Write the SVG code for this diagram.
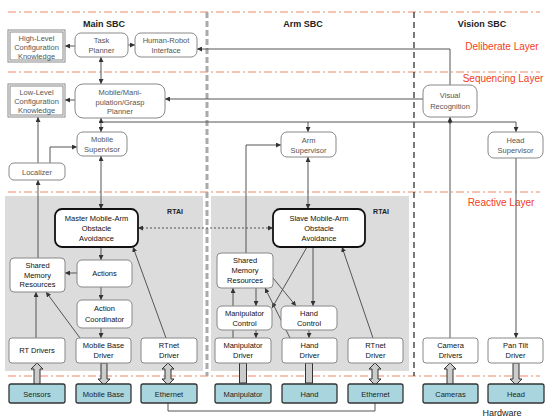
<svg xmlns="http://www.w3.org/2000/svg" width="549" height="420" viewBox="0 0 549 420">
<style>
.t{font-family:"Liberation Sans",Arial,sans-serif;font-size:7.5px;fill:#555;text-anchor:middle}
.tb{font-family:"Liberation Sans",Arial,sans-serif;font-size:7.5px;fill:#111;text-anchor:middle}
.th{font-family:"Liberation Sans",Arial,sans-serif;font-size:7.5px;fill:#222;text-anchor:middle}
.ti{font-family:"Liberation Sans",Arial,sans-serif;font-size:9px;fill:#222;text-anchor:middle;font-weight:bold}
.tl{font-family:"Liberation Sans",Arial,sans-serif;font-size:10px;fill:#f0401a;text-anchor:middle}
.tr{font-family:"Liberation Sans",Arial,sans-serif;font-size:7px;fill:#222;text-anchor:middle;font-weight:bold}
.n{fill:#fff;stroke:#888;stroke-width:1}
.k{fill:#fff;stroke:#888;stroke-width:1}
.b{fill:#fff;stroke:#111;stroke-width:1.8}
.h{fill:#a9d6de;stroke:#333;stroke-width:1.3}
.c{stroke:#555;stroke-width:1;fill:none}
.lay{stroke:#f08a6a;stroke-width:1.2;stroke-dasharray:8,3,2,3;fill:none}
.blk{fill:#ccc;stroke:#333;stroke-width:1}
</style>
<defs>
<marker id="a" viewBox="0 0 6 6" refX="6" refY="3" markerWidth="5" markerHeight="5" orient="auto-start-reverse" markerUnits="userSpaceOnUse">
<path d="M0,0 L6,3 L0,6 z" fill="#333"/>
</marker>
</defs>
<rect width="549" height="420" fill="#fff"/>
<!-- reactive gray regions -->
<rect x="5" y="196" width="198" height="175" fill="#dcdcdc"/>
<rect x="211" y="196" width="198" height="175" fill="#dcdcdc"/>
<!-- layer lines -->
<g id="layers">
<line class="lay" x1="8" y1="12" x2="540" y2="12"/>
<line class="lay" x1="8" y1="72" x2="540" y2="72"/>
<line class="lay" x1="8" y1="192" x2="540" y2="192"/>
<line class="lay" x1="8" y1="376" x2="540" y2="376"/>
<line x1="207" y1="12" x2="207" y2="376" stroke="#aaa" stroke-width="3" stroke-dasharray="6,3"/>
<line x1="414" y1="12" x2="414" y2="376" stroke="#333" stroke-width="1.3" stroke-dasharray="6,4"/>
<text class="ti" x="104" y="27">Main SBC</text>
<text class="ti" x="303" y="27">Arm SBC</text>
<text class="ti" x="482" y="27">Vision SBC</text>
<text class="tl" x="502" y="50">Deliberate Layer</text>
<text class="tl" x="503" y="82">Sequencing Layer</text>
<text class="tl" x="501" y="206">Reactive Layer</text>
<text class="th" x="502" y="416" style="font-size:9px">Hardware</text>
<text class="tr" x="175" y="214">RTAI</text>
<text class="tr" x="381" y="214">RTAI</text>
</g>
<!-- connectors -->
<g id="connectors">
<line class="c" x1="75" y1="46" x2="65" y2="46" marker-end="url(#a)"/>
<line class="c" x1="128" y1="45" x2="135" y2="45" marker-end="url(#a)"/>
<path class="c" d="M450,85 V49 H197" marker-end="url(#a)"/>
<line class="c" x1="101" y1="57" x2="101" y2="84" marker-start="url(#a)" marker-end="url(#a)"/>
<line class="c" x1="75" y1="100" x2="65" y2="100" marker-end="url(#a)"/>
<line class="c" x1="423" y1="99" x2="165" y2="99" marker-end="url(#a)"/>
<line class="c" x1="101" y1="122" x2="516" y2="122"/>
<line class="c" x1="516" y1="122" x2="516" y2="132" marker-end="url(#a)"/>
<line class="c" x1="308" y1="122" x2="308" y2="132" marker-end="url(#a)"/>
<line class="c" x1="101" y1="118" x2="101" y2="132" marker-start="url(#a)" marker-end="url(#a)"/>
<line class="c" x1="450" y1="338" x2="450" y2="117" marker-end="url(#a)"/>
<circle cx="450" cy="122" r="1.5" fill="#333"/>
<line class="c" x1="38" y1="163" x2="38" y2="117" marker-end="url(#a)"/>
<path class="c" d="M50,163 V147 H77" marker-end="url(#a)"/>
<line class="c" x1="38" y1="258" x2="38" y2="180" marker-end="url(#a)"/>
<line class="c" x1="101" y1="156" x2="101" y2="209" marker-start="url(#a)" marker-end="url(#a)"/>
<line class="c" x1="308" y1="157" x2="308" y2="209" marker-start="url(#a)" marker-end="url(#a)"/>
<line class="c" x1="516" y1="158" x2="516" y2="338" marker-end="url(#a)"/>
<line class="c" x1="138" y1="228" x2="273" y2="228" stroke-dasharray="2,2" marker-start="url(#a)" marker-end="url(#a)"/>
<line class="c" x1="101" y1="247" x2="101" y2="260" marker-end="url(#a)"/>
<line class="c" x1="77" y1="273" x2="65" y2="273" marker-end="url(#a)"/>
<line class="c" x1="101" y1="287" x2="101" y2="300" marker-end="url(#a)"/>
<line class="c" x1="101" y1="328" x2="101" y2="338" marker-end="url(#a)"/>
<line class="c" x1="36" y1="338" x2="36" y2="292" marker-end="url(#a)"/>
<line class="c" x1="80" y1="338" x2="46" y2="292" marker-end="url(#a)"/>
<line class="c" x1="166" y1="338" x2="133" y2="247" marker-end="url(#a)"/>
<path class="c" d="M246,253 V145 H281" marker-end="url(#a)"/>
<line class="c" x1="307" y1="247" x2="272" y2="308" marker-end="url(#a)"/>
<line class="c" x1="313" y1="247" x2="313" y2="306" marker-end="url(#a)"/>
<line class="c" x1="373" y1="338" x2="342" y2="247" marker-end="url(#a)"/>
<line class="c" x1="273" y1="278" x2="296" y2="306" marker-end="url(#a)"/>
<line class="c" x1="290" y1="338" x2="265" y2="288" marker-end="url(#a)"/>
<line class="c" x1="233" y1="306" x2="233" y2="288" marker-end="url(#a)"/>
<line class="c" x1="256" y1="288" x2="256" y2="306" marker-end="url(#a)"/>
<line class="c" x1="233" y1="330" x2="233" y2="338"/>
<line class="c" x1="256" y1="330" x2="256" y2="338" marker-end="url(#a)"/>
<line class="c" x1="309" y1="330" x2="309" y2="338" marker-end="url(#a)"/>
<path class="c" d="M168,403 V411 H375 V403" stroke="#333"/>
<!-- block arrows -->
<path class="blk" d="M34,385 V369 H31 L37,363 L43,369 H40 V385 Z"/>
<path class="blk" d="M101,363 V379 H98 L104,385 L110,379 H107 V363 Z"/>
<path class="blk" d="M165,369 V379 H162 L168,385 L174,379 H171 V369 H174 L168,363 L162,369 Z"/>
<rect class="blk" x="239.5" y="363" width="7" height="20"/>
<rect class="blk" x="305.5" y="363" width="7" height="20"/>
<path class="blk" d="M372,369 V379 H369 L375,385 L381,379 H378 V369 H381 L375,363 L369,369 Z"/>
<path class="blk" d="M447,385 V369 H444 L450,363 L456,369 H453 V385 Z"/>
<path class="blk" d="M513,363 V379 H510 L516,385 L522,379 H519 V363 Z"/>
</g>
<!-- nodes -->
<g id="hlck"><rect class="k" x="8" y="30" width="57" height="32"/><rect class="k" x="10" y="32" width="53" height="28"/><text class="t" x="36.5" y="41">High-Level</text><text class="t" x="36.5" y="50">Configuration</text><text class="t" x="36.5" y="59">Knowledge</text></g>
<g id="task-planner"><rect class="n" x="75" y="33" width="53" height="24" rx="6"/><text class="t" x="101.5" y="43">Task</text><text class="t" x="101.5" y="53">Planner</text></g>
<g id="hri"><rect class="n" x="135" y="33" width="62" height="24" rx="6"/><text class="t" x="166" y="43">Human-Robot</text><text class="t" x="166" y="53">Interface</text></g>
<g id="llck"><rect class="k" x="8" y="84" width="57" height="33"/><rect class="k" x="10" y="86" width="53" height="29"/><text class="t" x="36.5" y="95">Low-Level</text><text class="t" x="36.5" y="104">Configuration</text><text class="t" x="36.5" y="113">Knowledge</text></g>
<g id="planner"><rect class="n" x="75" y="84" width="90" height="34" rx="8"/><text class="t" x="120" y="95">Mobile/Mani-</text><text class="t" x="120" y="104.5">pulation/Grasp</text><text class="t" x="120" y="114">Planner</text></g>
<g id="mobile-supervisor"><rect class="n" x="77" y="132" width="50" height="24" rx="6"/><text class="t" x="102" y="142">Mobile</text><text class="t" x="102" y="152">Supervisor</text></g>
<g id="localizer"><rect class="n" x="9" y="163" width="56" height="17" rx="5"/><text class="t" x="37" y="174.5">Localizer</text></g>
<g id="arm-supervisor"><rect class="n" x="281" y="132" width="55" height="25" rx="6"/><text class="t" x="308.5" y="142.5">Arm</text><text class="t" x="308.5" y="152.5">Supervisor</text></g>
<g id="visual-recognition"><rect class="n" x="423" y="85" width="54" height="32" rx="7"/><text class="t" x="450" y="98">Visual</text><text class="t" x="450" y="109">Recognition</text></g>
<g id="head-supervisor"><rect class="n" x="488" y="132" width="55" height="26" rx="6"/><text class="t" x="515.5" y="143">Head</text><text class="t" x="515.5" y="153">Supervisor</text></g>
<g id="master"><rect class="b" x="55" y="209" width="83" height="38" rx="7"/><text class="tb" x="96.5" y="221">Master Mobile-Arm</text><text class="tb" x="96.5" y="231">Obstacle</text><text class="tb" x="96.5" y="241">Avoidance</text></g>
<g id="slave"><rect class="b" x="273" y="209" width="92" height="38" rx="7"/><text class="tb" x="319" y="221">Slave Mobile-Arm</text><text class="tb" x="319" y="231">Obstacle</text><text class="tb" x="319" y="241">Avoidance</text></g>
<g id="smr-main"><rect class="n" x="10" y="258" width="55" height="34" rx="4"/><text class="tb" x="37.5" y="268">Shared</text><text class="tb" x="37.5" y="277.5">Memory</text><text class="tb" x="37.5" y="287">Resources</text></g>
<g id="actions"><rect class="n" x="77" y="260" width="55" height="27" rx="5"/><text class="tb" x="104.5" y="276">Actions</text></g>
<g id="action-coordinator"><rect class="n" x="77" y="300" width="55" height="28" rx="5"/><text class="tb" x="104.5" y="311">Action</text><text class="tb" x="104.5" y="322">Coordinator</text></g>
<g id="rt-drivers"><rect class="n" x="9" y="338" width="56" height="25" rx="3"/><text class="tb" x="37" y="353">RT Drivers</text></g>
<g id="mobile-base-driver"><rect class="n" x="76" y="338" width="55" height="25" rx="3"/><text class="tb" x="103.5" y="348">Mobile Base</text><text class="tb" x="103.5" y="358">Driver</text></g>
<g id="rtnet-driver-main"><rect class="n" x="141" y="338" width="56" height="25" rx="3"/><text class="tb" x="169" y="348">RTnet</text><text class="tb" x="169" y="358">Driver</text></g>
<g id="smr-arm"><rect class="n" x="217" y="253" width="56" height="35" rx="4"/><text class="tb" x="245" y="263">Shared</text><text class="tb" x="245" y="273">Memory</text><text class="tb" x="245" y="283">Resources</text></g>
<g id="manipulator-control"><rect class="n" x="217" y="306" width="55" height="24" rx="5"/><text class="tb" x="244.5" y="316">Manipulator</text><text class="tb" x="244.5" y="326">Control</text></g>
<g id="hand-control"><rect class="n" x="281" y="306" width="56" height="24" rx="5"/><text class="tb" x="309" y="316">Hand</text><text class="tb" x="309" y="326">Control</text></g>
<g id="manipulator-driver"><rect class="n" x="215" y="338" width="56" height="25" rx="3"/><text class="tb" x="243" y="348">Manipulator</text><text class="tb" x="243" y="358">Driver</text></g>
<g id="hand-driver"><rect class="n" x="282" y="338" width="55" height="25" rx="3"/><text class="tb" x="309.5" y="348">Hand</text><text class="tb" x="309.5" y="358">Driver</text></g>
<g id="rtnet-driver-arm"><rect class="n" x="348" y="338" width="55" height="25" rx="3"/><text class="tb" x="375.5" y="348">RTnet</text><text class="tb" x="375.5" y="358">Driver</text></g>
<g id="camera-drivers"><rect class="n" x="423" y="338" width="55" height="25" rx="3"/><text class="tb" x="450.5" y="348">Camera</text><text class="tb" x="450.5" y="358">Drivers</text></g>
<g id="pan-tilt-driver"><rect class="n" x="488" y="338" width="55" height="25" rx="3"/><text class="tb" x="515.5" y="348">Pan Tilt</text><text class="tb" x="515.5" y="358">Driver</text></g>
<g id="sensors"><rect class="h" x="9" y="384" width="56" height="19" rx="2"/><text class="th" x="37" y="396.5">Sensors</text></g>
<g id="mobile-base"><rect class="h" x="76" y="384" width="55" height="19" rx="2"/><text class="th" x="103.5" y="396.5">Mobile Base</text></g>
<g id="ethernet-1"><rect class="h" x="141" y="384" width="56" height="19" rx="2"/><text class="th" x="169" y="396.5">Ethernet</text></g>
<g id="manipulator"><rect class="h" x="215" y="384" width="56" height="19" rx="2"/><text class="th" x="243" y="396.5">Manipulator</text></g>
<g id="hand"><rect class="h" x="282" y="384" width="55" height="19" rx="2"/><text class="th" x="309.5" y="396.5">Hand</text></g>
<g id="ethernet-2"><rect class="h" x="348" y="384" width="55" height="19" rx="2"/><text class="th" x="375.5" y="396.5">Ethernet</text></g>
<g id="cameras"><rect class="h" x="423" y="384" width="55" height="19" rx="2"/><text class="th" x="450.5" y="396.5">Cameras</text></g>
<g id="head"><rect class="h" x="488" y="384" width="56" height="19" rx="2"/><text class="th" x="516" y="396.5">Head</text></g>
</svg>
